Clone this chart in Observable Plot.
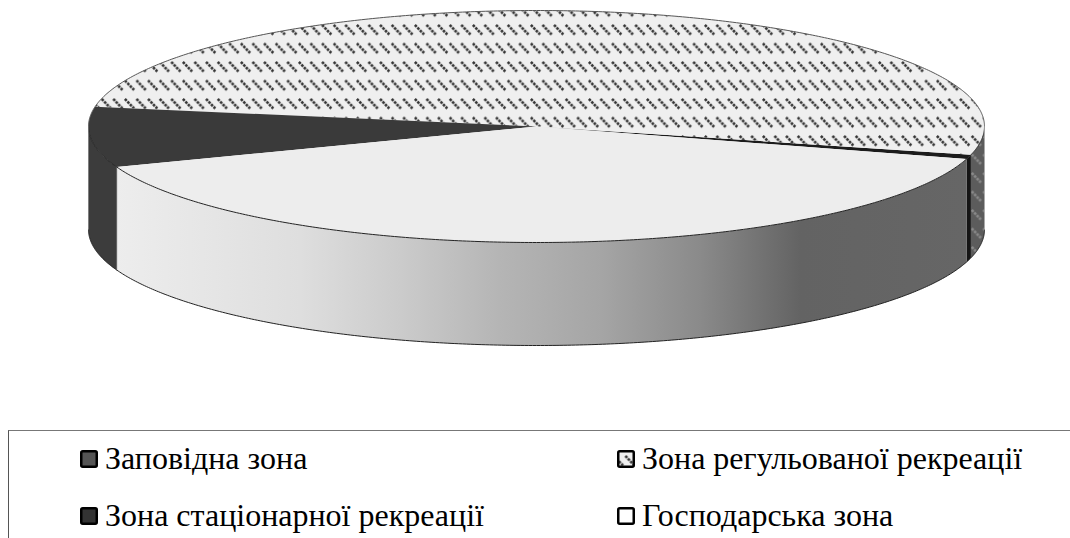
<!DOCTYPE html>
<html lang="uk">
<head>
<meta charset="utf-8">
<script src="https://cdn.jsdelivr.net/npm/d3@7"></script>
<script src="https://cdn.jsdelivr.net/npm/@observablehq/plot@0.6"></script>
<style>
html,body{margin:0;padding:0;background:#fff;width:1070px;height:538px;overflow:hidden}
#chart svg{display:block}
#legend{position:absolute;left:8px;top:430px;width:1070px;height:108px;border-left:1px solid #555;border-top:1px solid #777;font-family:"Liberation Serif",serif;font-size:32px;color:#000;overflow:hidden}
.item{position:absolute;display:flex;align-items:center;white-space:nowrap;height:30px}
.item svg{margin-right:7px;flex:none}
</style>
</head>
<body>
<div id="chart"></div>
<div id="legend"></div>
<script>
const zones = ["Заповідна зона", "Зона регульованої рекреації", "Зона стаціонарної рекреації", "Господарська зона"];
const shares = [0.6, 51.2, 8.4, 39.8];
const topFills = ["#1c1c1c", "url(#hatch)", "#3a3a3a", "#ededed"];
const sideFills = ["#151515", "url(#hatchSide)", "#3c3c3c", "url(#shade)"];
const swatchFills = ["#555555", "url(#hatch)", "#333333", "#ffffff"];
const startAngle = 16.3;
const depth = 0.888;

const rad = Math.PI / 180;
const total = d3.sum(shares);
let cursor = startAngle;
const slices = shares.map((s, i) => {
  const a0 = cursor, a1 = cursor - s / total * 360;
  cursor = a1;
  return {i, a0, a1};
});
const arc = (a0, a1, dy = 0) => {
  const n = Math.max(2, Math.ceil(Math.abs(a1 - a0) / 0.5));
  return d3.range(n + 1).map(k => {
    const t = (a0 + (a1 - a0) * k / n) * rad;
    return {x: Math.cos(t), y: Math.sin(t) + dy};
  });
};
// Front wall pieces: only the part of a slice with sin > 0 is visible.
const frontRange = ({a0, a1}) => {
  for (const off of [0, 360, 720]) {
    const hi = Math.min(a0 + off, 180), lo = Math.max(a1 + off, 0);
    if (hi > lo) return [hi, lo];
  }
  return null;
};
const sideMarks = slices.flatMap(s => {
  const r = frontRange(s);
  if (!r) return [];
  const poly = [...arc(r[0], r[1]), ...arc(r[1], r[0], depth)];
  return [Plot.line(poly, {x: "x", y: "y", fill: sideFills[s.i], stroke: "none", curve: "linear-closed"})];
});
const topMarks = slices.map(s =>
  Plot.line([{x: 0, y: 0}, ...arc(s.a0, s.a1), {x: 0, y: 0}], {
    x: "x", y: "y", fill: topFills[s.i], stroke: "none", curve: "linear-closed"
  })
);
const defs = () => {
  const d = d3.create("svg:defs");
  const hatch = (id, bg, fg) => {
    const p = d.append("pattern").attr("id", id).attr("patternUnits", "userSpaceOnUse")
      .attr("width", 11.6).attr("height", 18.5).attr("patternTransform", "translate(7.6,5)");
    p.append("rect").attr("width", 11.6).attr("height", 18.5).attr("fill", bg);
    p.append("line").attr("x1", 0.8).attr("y1", 1).attr("x2", 10).attr("y2", 10.5)
      .attr("stroke", fg).attr("stroke-width", 2.6).attr("stroke-dasharray", "2.6 1");
  };
  hatch("hatch", "#efefef", "#333333");
  hatch("hatchSide", "#5c5c5c", "#8a8a8a");
  const g = d.append("linearGradient").attr("id", "shade");
  [[0, "#ededed"], [0.216, "#dedede"], [0.334, "#cbcbcb"], [0.45, "#b5b5b5"], [0.57, "#a5a5a5"],
   [0.687, "#8a8a8a"], [0.805, "#636363"], [1, "#666666"]].forEach(([o, c]) =>
    g.append("stop").attr("offset", o).attr("stop-color", c));
  return d.node();
};
const wallEdge = a => [{x: Math.cos(a * rad), y: Math.sin(a * rad)}, {x: Math.cos(a * rad), y: Math.sin(a * rad) + depth}];
const white = slices[3];
const plot = Plot.plot({
  width: 1070, height: 425, margin: 0,
  x: {domain: [-1, 1], range: [88, 984], axis: null},
  y: {domain: [-1, 1], range: [10, 242], axis: null},
  marks: [
    defs,
    ...sideMarks,
    ...topMarks,
    Plot.line(arc(0, 180, depth), {x: "x", y: "y", stroke: "#222", strokeWidth: 1}),
    Plot.line(arc(0, 180), {x: "x", y: "y", stroke: "#222", strokeWidth: 1}),
    Plot.line(arc(180, 360), {x: "x", y: "y", stroke: "#555", strokeWidth: 1}),
    Plot.line(wallEdge(white.a0 + 360), {x: "x", y: "y", stroke: "#444", strokeWidth: 0.8}),
    Plot.line(wallEdge(0), {x: "x", y: "y", stroke: "#aaa", strokeWidth: 0.8}),
    Plot.line(wallEdge(180), {x: "x", y: "y", stroke: "#777", strokeWidth: 0.8})
  ]
});
document.getElementById("chart").append(plot);

const legend = d3.select("#legend");
const slots = [[71, 12.5], [608, 12.5], [71, 69.5], [608, 69.5]];
zones.forEach((z, i) => {
  const it = legend.append("div").attr("class", "item").style("left", slots[i][0] + "px").style("top", slots[i][1] + "px");
  const s = it.append("svg").attr("width", 18).attr("height", 18);
  s.append("rect").attr("x", 1.25).attr("y", 1.25).attr("width", 15.5).attr("height", 15.5).attr("rx", 1.5)
    .attr("fill", swatchFills[i]).attr("stroke", "#000").attr("stroke-width", 2.5);
  it.append("span").text(z);
});
</script>
</body>
</html>
